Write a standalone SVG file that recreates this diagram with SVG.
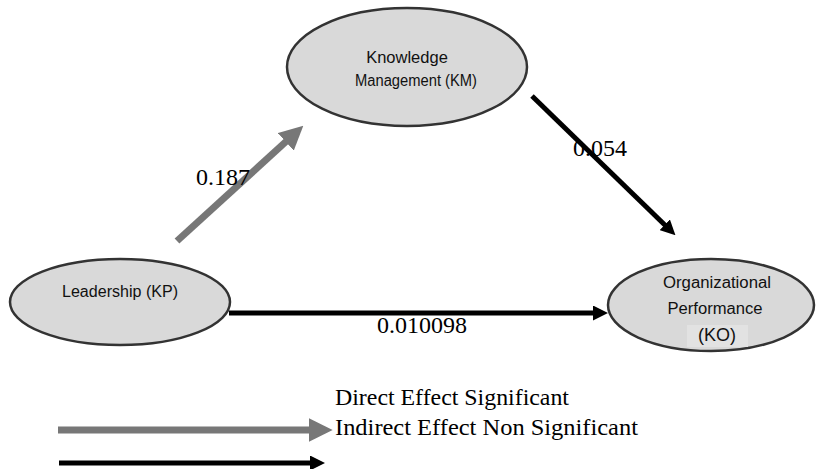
<svg xmlns="http://www.w3.org/2000/svg" width="817" height="469" viewBox="0 0 817 469">
  <style>
    .node ellipse { fill: #d9d9d9; stroke: #333333; stroke-width: 2.5; }
    .lbl { font-family: "Liberation Sans", "Open Sans", sans-serif; font-size: 16px; fill: #111111; text-anchor: middle; }
    .num { font-family: "Liberation Serif", "Times New Roman", serif; font-size: 24px; fill: #000; }
    .gray { stroke: #777777; stroke-width: 7; fill: none; }
    .black { stroke: #000000; stroke-width: 5; fill: none; }
  </style>
  <defs>
    <marker id="headGray" viewBox="0 0 10 10" refX="3" refY="5" markerWidth="3.4" markerHeight="3.4" orient="auto" markerUnits="strokeWidth">
      <path d="M0,0 L10,5 L0,10 z" fill="#777777"/>
    </marker>
    <marker id="headBlack" viewBox="0 0 10 10" refX="4" refY="5" markerWidth="3" markerHeight="3" orient="auto" markerUnits="strokeWidth">
      <path d="M0,0 L10,5 L0,10 z" fill="#000000"/>
    </marker>
  </defs>

  <rect width="817" height="469" fill="#ffffff"/>

  <!-- paths between the three constructs -->
  <g id="connectors">
    <line class="gray" x1="177" y1="241" x2="291" y2="137" marker-end="url(#headGray)"/>
    <line class="black" x1="532" y1="96" x2="669" y2="229" marker-end="url(#headBlack)"/>
    <line class="black" x1="229" y1="313" x2="599" y2="313" marker-end="url(#headBlack)"/>
  </g>

  <!-- path coefficients -->
  <g id="coefficients">
    <text class="num" x="196" y="185">0.187</text>
    <text class="num" x="573" y="156">0.054</text>
    <text class="num" x="377" y="333">0.010098</text>
  </g>

  <g id="km" class="node">
    <ellipse cx="407" cy="67" rx="120" ry="59"/>
    <text class="lbl" x="407" y="63" style="font-size:16.5px">Knowledge</text>
    <text class="lbl" x="416" y="86" textLength="122" lengthAdjust="spacingAndGlyphs">Management (KM)</text>
  </g>

  <g id="kp" class="node">
    <ellipse cx="120" cy="302" rx="110" ry="43"/>
    <text class="lbl" x="120" y="297" textLength="116" lengthAdjust="spacingAndGlyphs">Leadership (KP)</text>
  </g>

  <g id="ko" class="node">
    <ellipse cx="711" cy="305" rx="103" ry="46"/>
    <text class="lbl" x="717" y="288" textLength="108" lengthAdjust="spacingAndGlyphs">Organizational</text>
    <text class="lbl" x="715" y="314" textLength="95" lengthAdjust="spacingAndGlyphs">Performance</text>
    <rect x="687" y="325" width="61" height="22" fill="#e2e2e2"/>
    <text class="lbl" x="717" y="341" style="font-size:18px">(KO)</text>
  </g>

  <!-- legend -->
  <g id="legend">
    <line class="gray" x1="58" y1="430" x2="316" y2="430" marker-end="url(#headGray)"/>
    <line class="black" x1="59" y1="463" x2="316" y2="463" marker-end="url(#headBlack)"/>
    <text class="num" x="335" y="405" textLength="234" lengthAdjust="spacingAndGlyphs">Direct Effect Significant</text>
    <text class="num" x="335" y="435" textLength="303" lengthAdjust="spacingAndGlyphs">Indirect Effect Non Significant</text>
  </g>
</svg>
